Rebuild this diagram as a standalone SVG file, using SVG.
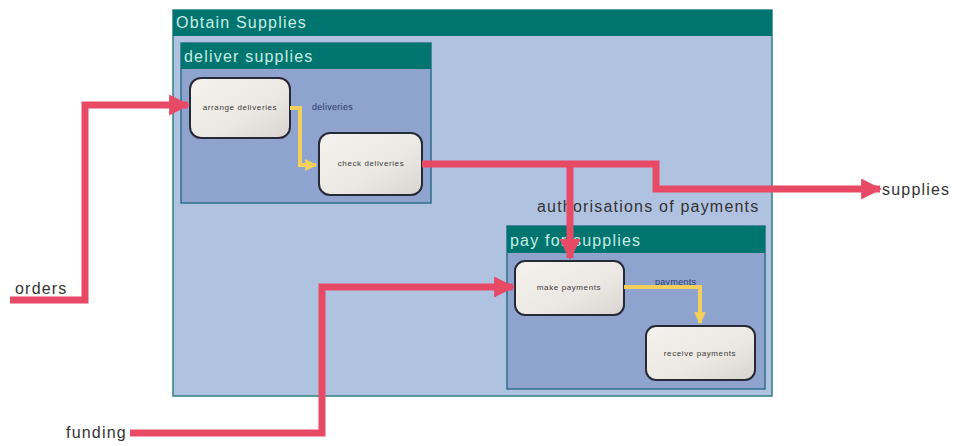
<svg xmlns="http://www.w3.org/2000/svg" width="958" height="446" viewBox="0 0 958 446">
  <defs>
    <linearGradient id="nodeFill" x1="0" y1="0" x2="1" y2="1">
      <stop offset="0" stop-color="#f4f2ee"/>
      <stop offset="0.6" stop-color="#ebe8e3"/>
      <stop offset="1" stop-color="#d8d4cf"/>
    </linearGradient>
    <marker id="redHead" viewBox="0 0 10 10" refX="9" refY="5" markerWidth="3" markerHeight="3" orient="auto" markerUnits="strokeWidth">
      <path d="M0,0 L10,5 L0,10 Z" fill="#e84a66"/>
    </marker>
    <marker id="yellowHead" viewBox="0 0 10 10" refX="9" refY="5" markerWidth="3" markerHeight="3" orient="auto" markerUnits="strokeWidth">
      <path d="M0,0 L10,5 L0,10 Z" fill="#f5cf5c"/>
    </marker>
  </defs>
  <style>
    .outer { fill: #afc2e0; stroke: #2f7f86; stroke-width: 1.5; }
    .inner { fill: #8fa3cf; stroke: #2f6f8f; stroke-width: 1.5; }
    .head { fill: #00756f; }
    .headText { font-family: "Liberation Sans", Arial, sans-serif; font-size: 16px; letter-spacing: 1.2px; fill: #c9ece4; }
    .node { fill: url(#nodeFill); stroke: #262a36; stroke-width: 2; }
    .nodeText { font-family: "Liberation Sans", Arial, sans-serif; font-size: 8px; letter-spacing: 0.6px; fill: #3a3a3a; text-anchor: middle; }
    .flow { fill: none; stroke: #e84a66; stroke-width: 7; stroke-linejoin: miter; }
    .inflow { fill: none; stroke: #f5cf5c; stroke-width: 4; }
    .label { font-family: "Liberation Sans", Arial, sans-serif; font-size: 16px; letter-spacing: 1.2px; fill: #333333; }
    .small { font-family: "Liberation Sans", Arial, sans-serif; font-size: 9px; letter-spacing: 0.3px; fill: #2c3a6a; }
  </style>

  <rect width="958" height="446" fill="#ffffff"/>

  <!-- Obtain Supplies container -->
  <g id="obtain-supplies">
    <rect class="outer" x="173" y="10" width="599" height="386"/>
    <rect class="head" x="173" y="10" width="599" height="26"/>
    <text class="headText" x="176" y="28">Obtain Supplies</text>
  </g>

  <!-- deliver supplies sub-process -->
  <g id="deliver-supplies">
    <rect class="inner" x="181" y="43" width="250" height="160"/>
    <rect class="head" x="181" y="43" width="250" height="26"/>
    <text class="headText" x="184" y="62">deliver supplies</text>
  </g>

  <!-- pay for supplies sub-process -->
  <g id="pay-for-supplies">
    <rect class="inner" x="507" y="226" width="258" height="163"/>
    <rect class="head" x="507" y="226" width="258" height="27"/>
    <text class="headText" x="510" y="246">pay for supplies</text>
  </g>

  <g id="arrange-deliveries">
    <rect class="node" x="190" y="78" width="100" height="60" rx="11"/>
    <text class="nodeText" x="240" y="110">arrange deliveries</text>
  </g>

  <g id="check-deliveries">
    <rect class="node" x="319" y="133" width="103" height="62" rx="11"/>
    <text class="nodeText" x="371" y="166">check deliveries</text>
  </g>

  <g id="make-payments">
    <rect class="node" x="515" y="261" width="109" height="54" rx="10"/>
    <text class="nodeText" x="569" y="290">make payments</text>
  </g>

  <g id="receive-payments">
    <rect class="node" x="646" y="326" width="109" height="54" rx="10"/>
    <text class="nodeText" x="700" y="356">receive payments</text>
  </g>

  <!-- flow labels -->
  <g id="labels">
    <text class="label" x="15" y="294">orders</text>
    <text class="label" x="66" y="438">funding</text>
    <text class="label" x="882" y="195">supplies</text>
    <text class="label" x="537" y="212">authorisations of payments</text>
    <text class="small" x="312" y="110">deliveries</text>
    <text class="small" x="655" y="285">payments</text>
  </g>

  <!-- connectors -->
  <g id="connectors">
    <path class="inflow" d="M290,108 H300 V165 H316" marker-end="url(#yellowHead)"/>
    <path class="inflow" d="M624,287 H700 V323" marker-end="url(#yellowHead)"/>

    <path class="flow" d="M10,300 H85 V105 H188" marker-end="url(#redHead)"/>
    <path class="flow" d="M422,164 H656 V189 H880" marker-end="url(#redHead)"/>
    <path class="flow" d="M570,164 V258" marker-end="url(#redHead)"/>
    <path class="flow" d="M130,433 H322 V287 H513" marker-end="url(#redHead)"/>
  </g>
</svg>
